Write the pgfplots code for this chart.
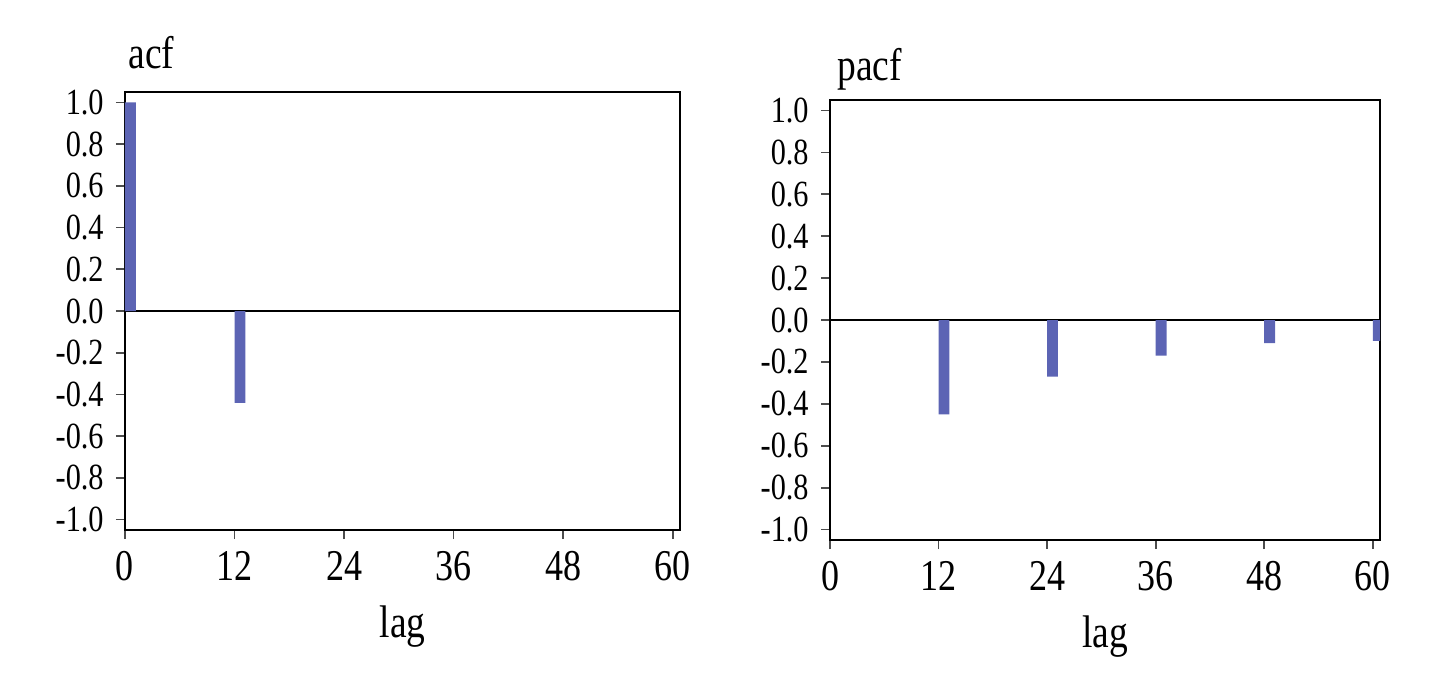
\documentclass[border=0pt]{standalone}
\usepackage{fontspec}
\setmainfont[FakeStretch=0.82]{Liberation Serif}
\usepackage{pgfplots}
\pgfplotsset{compat=1.18}
\definecolor{barblue}{RGB}{92,100,180}
\pgfplotsset{
  acfstyle/.style={
    scale only axis,
    anchor=south west,
    xmin=0, xmax=60.8, ymin=-1.05, ymax=1.05,
    xtick={0,12,24,36,48,60},
    ytick={-1.0,-0.8,-0.6,-0.4,-0.2,0.0,0.2,0.4,0.6,0.8,1.0},
    tick align=outside, tick pos=left,
    major tick length=0.09cm,
    axis line style={black, line width=0.8pt},
    every tick/.style={black!70, line width=0.5pt},
    /pgf/number format/assume math mode=true,
    yticklabel style={font=\fontsize{10.5}{12}\selectfont, /pgf/number format/.cd, fixed, fixed zerofill, precision=1},
    xticklabel style={font=\fontsize{12.5}{14}\selectfont},
    xlabel={lag},
    xlabel style={font=\fontsize{13}{15}\selectfont, yshift=-0.3pt},
    title style={at={(0,1)}, anchor=base west, font=\fontsize{13}{15}\selectfont},
  }
}
\begin{document}
\begin{tikzpicture}
\path[use as bounding box] (0,0) rectangle (14.4,6.92);
\begin{axis}[acfstyle, at={(1.25cm,1.62cm)}, width=5.55cm, height=4.38cm,
  title={acf}, title style={yshift=0.02cm, xshift=-0.09cm}]
  \addplot[black, line width=0.6pt] coordinates {(0,0) (60.8,0)};
  \addplot[ybar, bar width=1.2, bar shift=0.6, fill=barblue, draw=none] coordinates {(0,1.0) (12,-0.44)};
\end{axis}
\begin{axis}[acfstyle, at={(8.30cm,1.52cm)}, width=5.50cm, height=4.40cm,
  title={pacf}, title style={yshift=-0.02cm, xshift=-0.05cm}]
  \addplot[black, line width=0.6pt] coordinates {(0,0) (60.8,0)};
  \addplot[ybar, bar width=1.2, bar shift=0.6, fill=barblue, draw=none] coordinates {(12,-0.45) (24,-0.27) (36,-0.17) (48,-0.11) (60,-0.10)};
\end{axis}
\end{tikzpicture}
\end{document}
